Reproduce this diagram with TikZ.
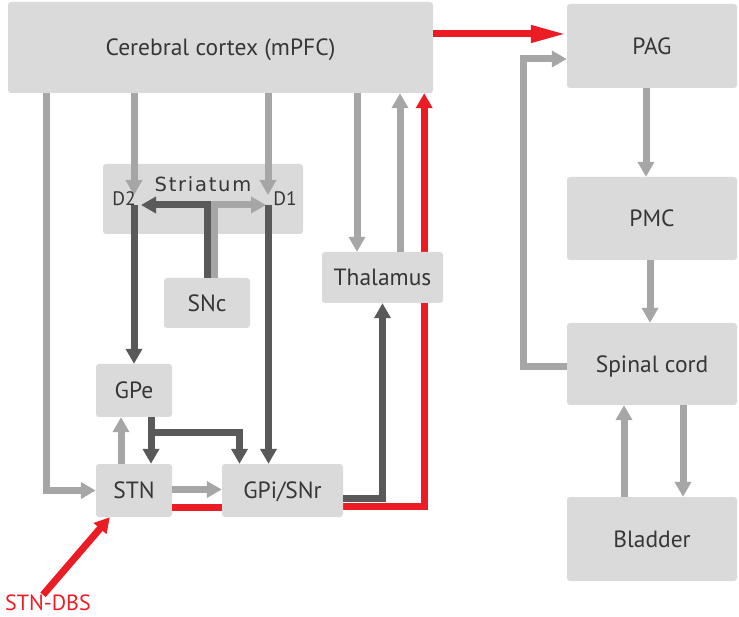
\documentclass[tikz,border=0pt]{standalone}
\usepackage{fontspec}
\setmainfont{PT Sans}
\newfontfamily\stfont[LetterSpace=9]{DejaVu Sans}
\usetikzlibrary{arrows.meta,backgrounds}
\definecolor{boxgray}{HTML}{DADADA}
\definecolor{litegray}{HTML}{A6A6A6}
\definecolor{arrowdark}{HTML}{595959}
\definecolor{dbsred}{HTML}{EC1C24}
\definecolor{labeltext}{HTML}{363636}

\begin{document}
\begin{tikzpicture}[x=1pt,y=-1pt,
region/.style={fill=boxgray,rounded corners=3pt,text=labeltext,inner sep=0pt,
  text height=16.5pt,text depth=0pt,font=\fontsize{23.5}{23.5}\selectfont},
tag/.style={text=labeltext,inner sep=0pt,font=\fontsize{19.5}{19.5}\selectfont},
grayarrow/.style={draw=litegray,line width=7pt,-{Triangle[length=15pt,width=16pt]}},
darkarrow/.style={grayarrow,draw=arrowdark},
redarrow/.style={grayarrow,draw=dbsred}]
\useasboundingbox (0,0) rectangle (739,617);

\node[region,minimum width=425pt,minimum height=91pt] (cortex) at (220.5,47.5) {Cerebral cortex (mPFC)};
\node[region,minimum width=200pt,minimum height=70pt] (striatum) at (203,199) {};
\node[region,minimum width=86pt,minimum height=50pt] (snc) at (207,303) {SNc};
\node[region,minimum width=121pt,minimum height=51pt] (thal) at (382.5,277.5) {Thalamus};
\node[region,minimum width=76pt,minimum height=53pt] (gpe) at (134,390.5) {GPe};
\node[region,minimum width=76pt,minimum height=53pt] (stn) at (134,490.5) {STN};
\node[region,minimum width=121pt,minimum height=53pt] (gpi) at (282.5,490.5) {GPi/SNr};
\node[region,minimum width=170pt,minimum height=84pt] (pag) at (652,46) {PAG};
\node[region,minimum width=170pt,minimum height=83pt] (pmc) at (652,218.5) {PMC};
\node[region,minimum width=170pt,minimum height=82pt] (spinal) at (652,364) {Spinal cord};
\node[region,minimum width=170pt,minimum height=84pt] (bladder) at (652,539) {Bladder};
\node[text=dbsred,inner sep=0pt,font=\fontsize{22}{22}\selectfont] (dbs) at (48,603) {STN-DBS};

\coordinate (d2in) at (134,195);
\coordinate (d1in) at (268,195);
\coordinate (d2out) at (134,205);
\coordinate (d1out) at (268.5,205);
\coordinate (d2side) at (141,205);
\coordinate (d1side) at (266,205);

\draw[grayarrow] ([xshift=39pt]cortex.south west) |- (stn.west);
\draw[grayarrow] (d2in |- cortex.south) -- (d2in);
\draw[grayarrow] (d1in |- cortex.south) -- (d1in);
\draw[grayarrow] ([xshift=-25.5pt]thal.north |- cortex.south) -- ([xshift=-25.5pt]thal.north);
\draw[grayarrow] ([xshift=17.5pt]thal.north) -- ([xshift=17.5pt]thal.north |- cortex.south);

\draw[darkarrow] (snc.north) |- (d2side);
\draw[grayarrow] ([xshift=7pt]snc.north) |- (d1side);
\draw[darkarrow] (d2out) -- (gpe.north);
\draw[darkarrow] (d1out) -- (d1out |- gpi.north);
\draw[darkarrow] ([xshift=17pt]gpe.south) -- ([xshift=17pt]stn.north);
\draw[darkarrow] ([xshift=17pt,yshift=-15pt]gpe.south) -| ([xshift=-43pt]gpi.north);
\draw[grayarrow] ([xshift=-13pt]stn.north) -- ([xshift=-13pt]gpe.south);
\draw[grayarrow] ([yshift=1pt]stn.east) -- ([yshift=1pt]gpi.west);
\draw[darkarrow] ([yshift=-7.5pt]gpi.east) -| (thal.south);

\draw[redarrow,-] ([yshift=-16.5pt]stn.east) -- ([yshift=-16.5pt]gpi.west);
\begin{scope}[on background layer]
\draw[redarrow] ([yshift=-15.5pt]gpi.east) -| ([xshift=-9pt]cortex.south east);
\end{scope}
\draw[redarrow,-{Triangle[length=36pt,width=16pt]}] ([yshift=13.5pt]cortex.east) -- ([yshift=13.5pt]cortex.east -| pag.west);
\draw[redarrow] ([xshift=-5pt]dbs.north) -- ([xshift=14pt]stn.south west);

\draw[grayarrow] ([xshift=-6pt]pag.south) -- ([xshift=-6pt]pmc.north);
\draw[grayarrow] ([xshift=-2pt]pmc.south) -- ([xshift=-2pt]spinal.north);
\draw[grayarrow] ([yshift=-3pt]spinal.west) -- ++(-43,0) |- ([yshift=-13pt]pag.west);
\draw[grayarrow] ([xshift=-28pt]bladder.north) -- ([xshift=-28pt]spinal.south);
\draw[grayarrow] ([xshift=31pt]spinal.south) -- ([xshift=31pt]bladder.north);

\node[tag,font=\stfont\fontsize{19.5}{19.5}\selectfont] (strlabel) at (203,184) {Striatum};
\node[tag] (d2) at (124,199) {D2};
\node[tag] (d1) at (285,198.5) {D1};
\end{tikzpicture}
\end{document}
